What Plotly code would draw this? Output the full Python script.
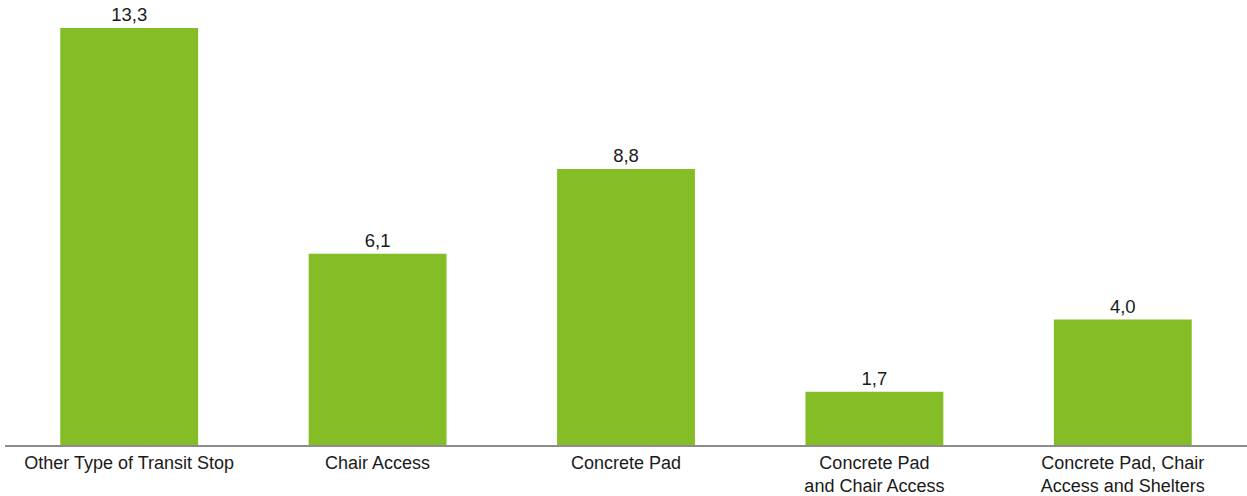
import plotly.graph_objects as go

categories = ["Other Type of Transit Stop", "Chair Access", "Concrete Pad",
              "Concrete Pad<br>and Chair Access", "Concrete Pad, Chair<br>Access and Shelters"]
values = [13.3, 6.1, 8.8, 1.7, 4.0]
labels = [f"{v:.1f}".replace(".", ",") for v in values]

fig = go.Figure(go.Bar(
    x=categories, y=values, text=labels, textposition="outside",
    marker=dict(color="#84BD26", line=dict(width=0)),
    textfont=dict(family="Liberation Sans, Arial, sans-serif", size=18.5, color="#1a1a1a"),
    cliponaxis=False, width=0.555,
))
fig.update_layout(
    width=1247, height=496,
    margin=dict(l=5, r=0, t=0, b=51, autoexpand=False),
    plot_bgcolor="white", paper_bgcolor="white",
    showlegend=False,
    font=dict(family="Liberation Sans, Arial, sans-serif", size=18, color="#1a1a1a"),
)
fig.update_xaxes(showline=True, linecolor="#8c8c8c", linewidth=2, showgrid=False,
                 ticks="", ticklabelstandoff=0, automargin=False,
                 tickfont=dict(size=18, color="#1a1a1a"))
fig.update_yaxes(range=[0, 445 / 31.35], visible=False, showgrid=False, automargin=False)
fig.write_html("out.html")
